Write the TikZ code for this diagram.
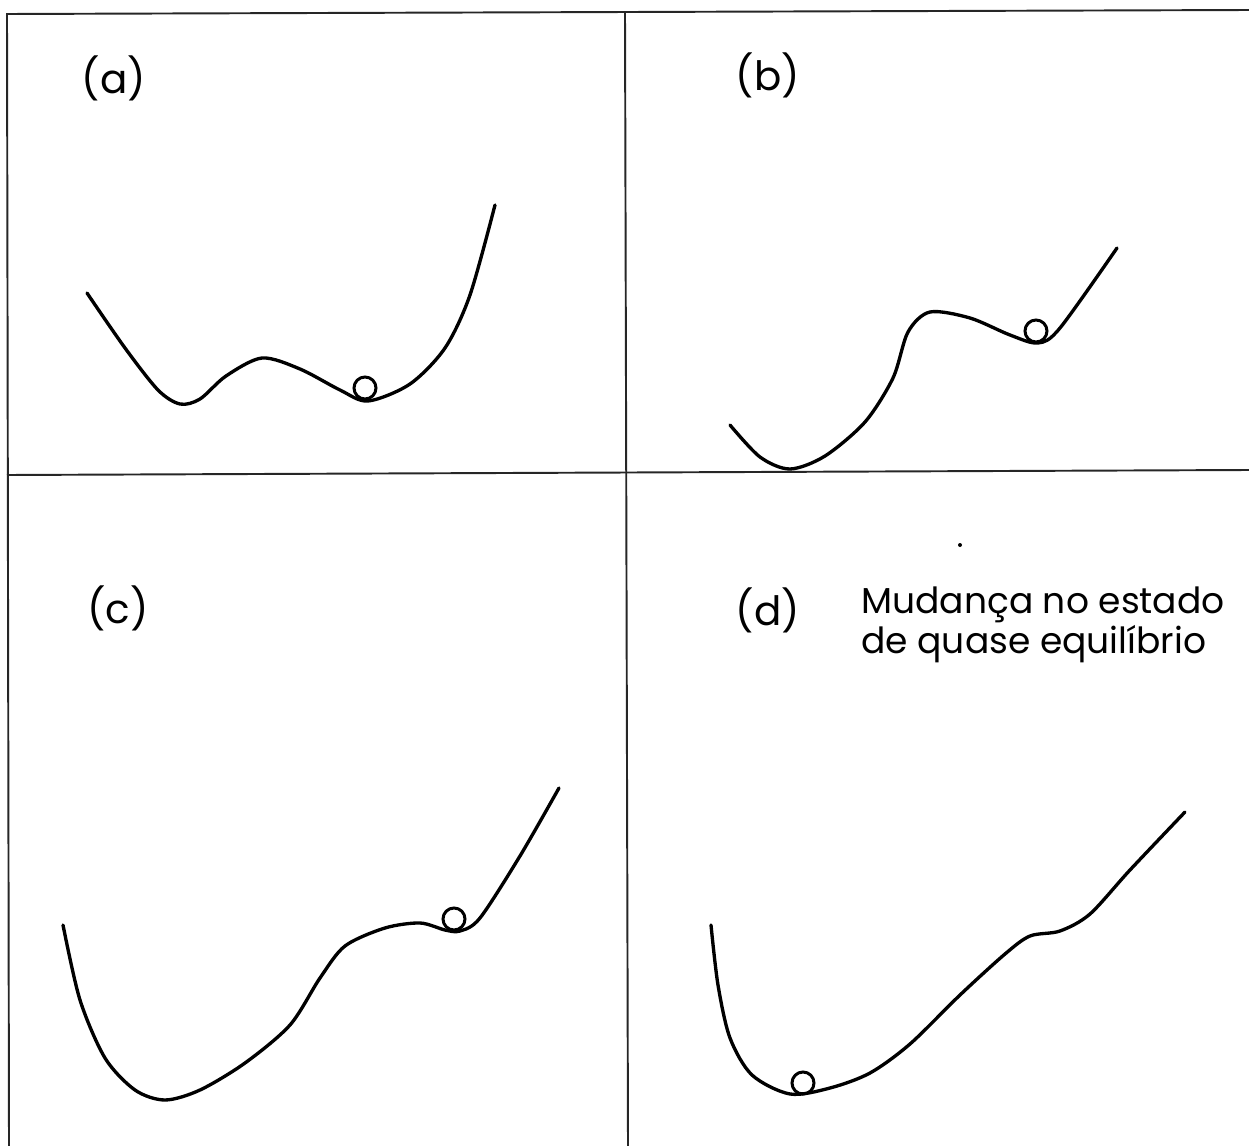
\documentclass[tikz,border=0pt]{standalone}
\usepackage{fontspec}
\setmainfont{Poppins}
\usetikzlibrary{positioning}

\begin{document}
\begin{tikzpicture}[
    x=0.02cm, y=-0.02cm,
    frame/.style={line width=1.1pt, black!85},
    curve/.style={line width=1.9pt, line join=round, line cap=round},
    ball/.style={circle, draw, line width=1.7pt, minimum size=0.44cm, inner sep=0pt},
    tag/.style={font=\fontsize{23}{28}\selectfont, inner sep=0pt},
    note/.style={font=\fontsize{20.5}{23}\selectfont, align=left, inner sep=0pt}
]
\useasboundingbox (0,0) rectangle (1249,1146);
% frame and dividers
\draw[frame] (1249,10) -- (7,14) -- (9,1146);
\draw[frame] (625,12) -- (628,1146);
\draw[frame] (7,475) -- (1249,470);

% (a) double well
\draw[curve] plot[smooth] coordinates {(87,293) (125,348) (158,390) (180,404) (200,399) (226,376) (262,358) (300,369) (340,390) (368,401) (410,384) (445,348) (470,295) (495,205)};
\node[ball] (ba) at (365,388) {};
\node[tag] (la) at (114,78) {(a)};

% (b)
\draw[curve] plot[smooth] coordinates {(730,425) (760,457) (790,469) (825,456) (865,422) (893,378) (908,332) (930,312) (970,318) (1010,335) (1038,343) (1060,328) (1117,248)};
\node[ball] (bb) at (1036,331) {};
\node[tag] (lb) at (768,75) {(b)};

% (c)
\draw[curve] plot[smooth] coordinates {(63,925) (80,1000) (105,1058) (135,1090) (165,1100) (200,1090) (245,1063) (290,1025) (320,978) (345,946) (385,928) (420,923) (445,930) (460,931) (480,918) (520,856) (559,788)};
\node[ball] (bc) at (454,919) {};
\node[tag] (lc) at (118,608) {(c)};

% (d)
\draw[curve] plot[smooth] coordinates {(711,925) (718,985) (730,1038) (752,1075) (790,1094) (830,1088) (870,1073) (910,1044) (960,995) (1005,954) (1030,936) (1060,931) (1090,914) (1130,870) (1185,812)};
\node[ball] (bd) at (803,1083) {};
\node[tag] (ld) at (768,610) {(d)};
\node[note, anchor=north west] (nd) at (861,586) {Mudança no estado\\de quase equilíbrio};
\fill (960,545) circle[radius=0.04cm];
\end{tikzpicture}
\end{document}
